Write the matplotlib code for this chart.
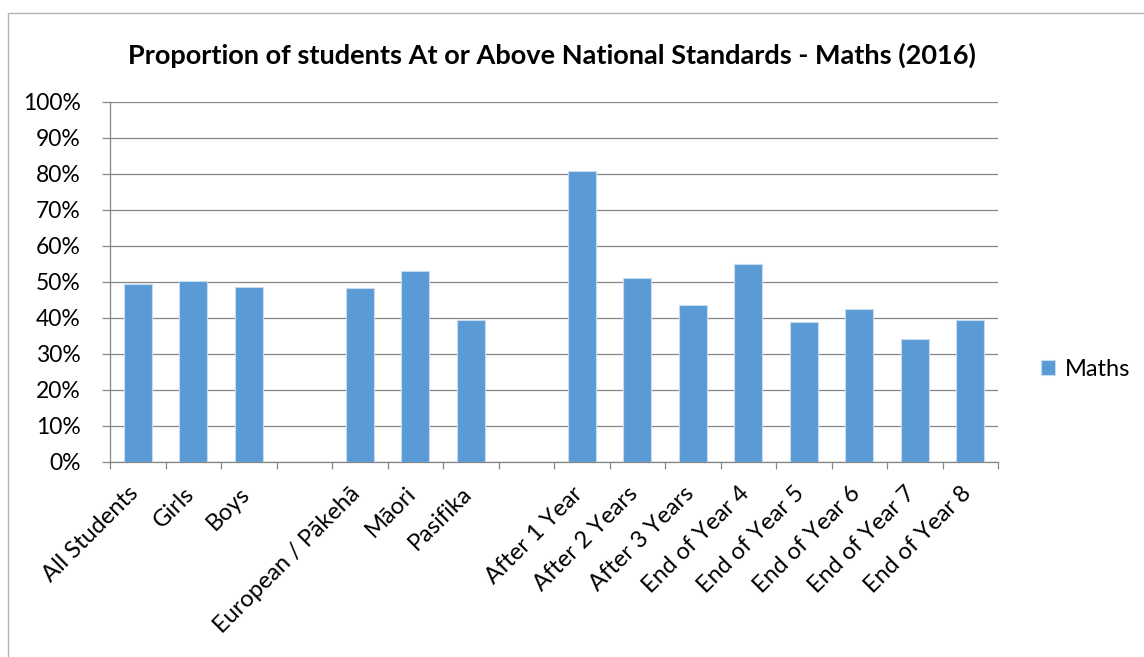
import numpy as np
import matplotlib
matplotlib.use("Agg")
import matplotlib.pyplot as plt
from matplotlib.patches import Rectangle
from matplotlib.ticker import PercentFormatter
from matplotlib.transforms import ScaledTranslation

# categories ('' = empty gap slot in the original chart)
categories = ["All Students", "Girls", "Boys", "",
              "European / Pākehā", "Māori", "Pasifika", "",
              "After 1 Year", "After 2 Years", "After 3 Years",
              "End of Year 4", "End of Year 5", "End of Year 6",
              "End of Year 7", "End of Year 8"]
maths = [49.5, 50.4, 48.6, np.nan,
         48.3, 53.1, 39.4, np.nan,
         80.7, 51.0, 43.5, 54.9, 38.8, 42.4, 34.3, 39.4]

title = "Proportion of students At or Above National Standards - Maths (2016)"
bar_color = "#5B9BD5"
grid_color = "#868686"

plt.rcParams['font.family'] = ['Lato', 'DejaVu Sans']

fig = plt.figure(figsize=(11.44, 6.57), dpi=100)
W, H = 1144, 657

# chart border
fig.patches.append(Rectangle((8 / W, -0.1), 1.2, 1 - 13 / H + 0.1,
                             transform=fig.transFigure, fill=False,
                             edgecolor="#b3b3b3", linewidth=1.0))

ax = fig.add_axes([110 / W, 1 - 462 / H, (998 - 110) / W, (462 - 102) / H])

x = np.arange(len(categories))
ax.bar(x, maths, width=0.5, color=bar_color, edgecolor="#c6dbf0",
       linewidth=0.8, label="Maths", zorder=3)

ax.set_xlim(-0.5, len(categories) - 0.5)
ax.set_ylim(0, 100)
ax.set_yticks(np.arange(0, 101, 10))
ax.yaxis.set_major_formatter(PercentFormatter(decimals=0))
ax.grid(axis="y", color=grid_color, linewidth=0.9, zorder=0)
ax.set_axisbelow(True)

for s in ["top", "right"]:
    ax.spines[s].set_visible(False)
ax.spines["left"].set_color(grid_color)
ax.spines["bottom"].set_color(grid_color)
ax.spines["left"].set_linewidth(0.9)
ax.spines["bottom"].set_linewidth(0.9)

ax.tick_params(axis="y", length=6, color=grid_color, width=0.9,
               labelsize=16.5, pad=15)

# tick marks at category boundaries, labels at centres
ax.set_xticks(np.arange(-0.5, len(categories), 1.0), minor=True)
ax.set_xticks(x)
ax.set_xticklabels(categories, rotation=45, ha="right",
                   rotation_mode="anchor", fontsize=17)
ax.tick_params(axis="x", which="major", length=0, pad=15)
ax.tick_params(axis="x", which="minor", length=5, color=grid_color, width=0.9)
shift = ScaledTranslation(-10 / 100, 0, fig.dpi_scale_trans)
for lab in ax.get_xticklabels():
    lab.set_transform(lab.get_transform() + shift)

fig.text(0.5 * (125 + 978) / W, 1 - 55 / H, title, ha="center", va="center",
         fontsize=19.5, fontweight="bold")

fig.legend(loc="center left", bbox_to_anchor=(1020 / W, 1 - 369 / H),
           frameon=False, fontsize=17, handlelength=0.6, handleheight=0.6,
           handletextpad=0.4)

fig.savefig("out.png", dpi=100)
